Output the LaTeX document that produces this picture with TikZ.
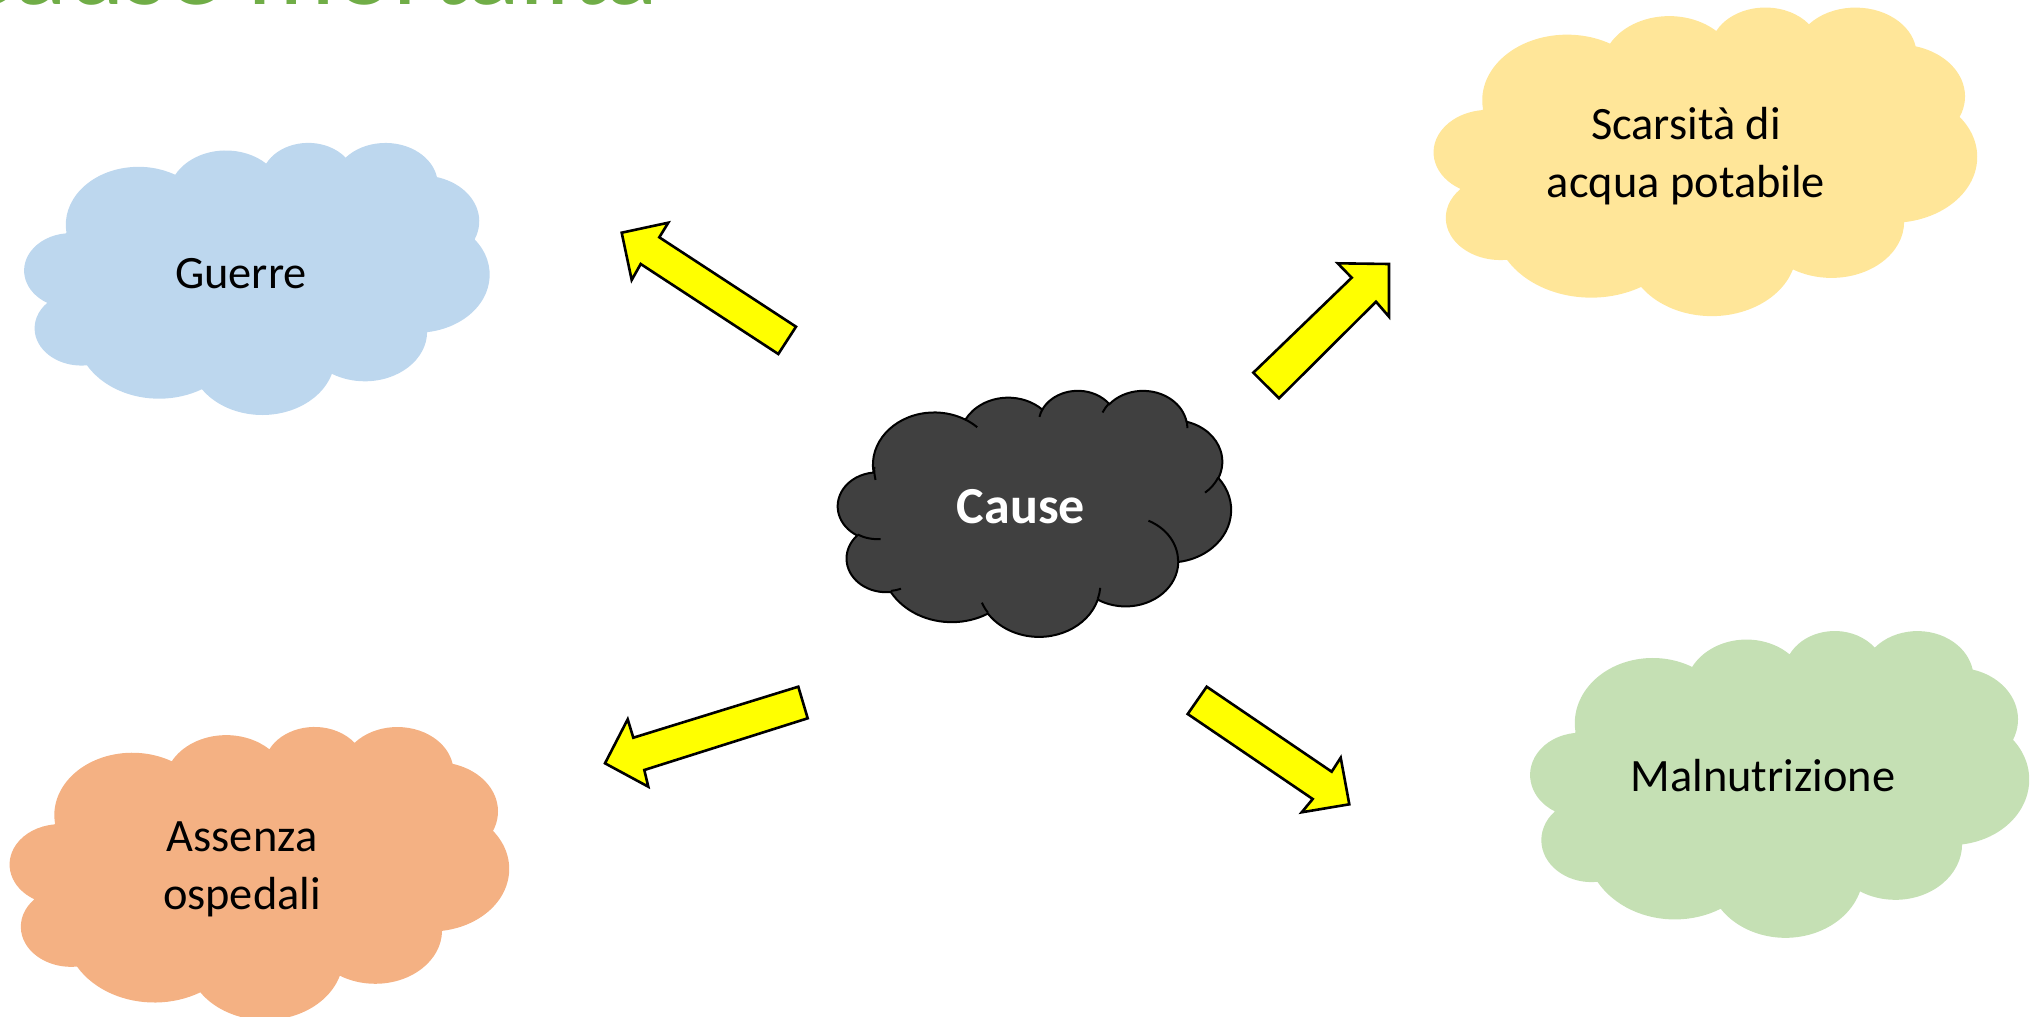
\documentclass[tikz,border=0pt]{standalone}
\usepackage{fontspec}
\setmainfont{Carlito}
\definecolor{cblue}{HTML}{BDD7EE}
\definecolor{cyellow}{HTML}{FFE699}
\definecolor{corange}{HTML}{F4B183}
\definecolor{cgreen}{HTML}{C5E0B4}
\definecolor{cdark}{HTML}{404040}
\definecolor{titlegreen}{HTML}{70AD47}
\definecolor{arrowyellow}{HTML}{FFFF00}
% arc of the PowerPoint cloud, visual angles converted to parametric ones
\newcommand\cldarc[5]{%
  \pgfmathsetmacro\cldtS{atan2(#2*sin(#4),#3*cos(#4))}%
  \pgfmathsetmacro\cldtE{atan2(#2*sin(#4+#5),#3*cos(#4+#5))}%
  \pgfmathsetmacro\cldtD{mod(\cldtE-\cldtS+720,360)}%
  \xdef#1{#1 arc[x radius=#2, y radius=#3, start angle=\cldtS, delta angle=\cldtD]}%
}
\newcommand\cldmove[3]{\xdef#1{#1 (#2,#3)}}
\begin{document}
\begin{tikzpicture}[x=0.5pt,y=-0.5pt,
  txt/.style={font=\fontsize{23.2pt}{29pt}\selectfont, align=center, inner sep=0pt, anchor=base},
  blockarrow/.style={fill=arrowyellow, draw=black, line width=1.3pt, line join=miter},
  cloudline/.style={draw=black, line width=1pt}]
\useasboundingbox (0,0) rectangle (2031,1017);
% outline of the cloud (units: 1/100 of the 43200 box)
\gdef\cldout{}
\cldarc{\cldout}{67.53}{91.90}{-190.4875}{123.7805}
\cldarc{\cldout}{53.33}{72.67}{-144.1024}{89.9452}
\cldarc{\cldout}{43.65}{59.45}{-145.8079}{99.7230}
\cldarc{\cldout}{48.57}{65.95}{-130.9861}{117.2417}
\cldarc{\cldout}{53.33}{72.73}{-78.7089}{109.0269}
\cldarc{\cldout}{67.75}{92.20}{-46.2673}{130.2690}
\cldarc{\cldout}{57.85}{78.67}{0.6250}{114.0333}
\cldarc{\cldout}{67.52}{92.15}{22.4516}{115.1726}
\cldarc{\cldout}{77.20}{105.43}{66.2426}{75.7110}
\cldarc{\cldout}{43.60}{59.18}{-274.9421}{146.7356}
\cldarc{\cldout}{43.45}{59.45}{-246.8285}{152.5189}
% inner strokes of the cloud
\gdef\cldin{}
\cldmove{\cldin}{46.93}{261.77}\cldarc{\cldin}{43.45}{59.45}{86.7420}{26.4295}
\cldmove{\cldin}{69.28}{348.99}\cldarc{\cldin}{43.60}{59.18}{73.6105}{11.4475}
\cldmove{\cldin}{164.78}{390.90}\cldarc{\cldin}{67.52}{92.15}{137.6242}{14.0811}
\cldmove{\cldin}{288.27}{347.51}\cldarc{\cldin}{67.52}{92.15}{6.4533}{15.9984}
\cldmove{\cldin}{341.29}{229.54}\cldarc{\cldin}{57.85}{78.67}{-70.2924}{70.9174}
\cldmove{\cldin}{417.98}{153.54}\cldarc{\cldin}{53.33}{72.73}{30.3180}{27.7515}
\cldmove{\cldin}{383.24}{54.26}\cldarc{\cldin}{48.57}{65.95}{-13.7443}{14.8589}
\cldmove{\cldin}{290.78}{39.52}\cldarc{\cldin}{48.57}{65.95}{-149.1815}{18.1954}
\cldmove{\cldin}{221.41}{47.20}\cldarc{\cldin}{43.65}{59.45}{-163.4943}{17.6864}
\cldmove{\cldin}{140.00}{51.92}\cldarc{\cldin}{67.53}{91.90}{-66.7070}{12.3194}
\cldmove{\cldin}{41.27}{157.89}\cldarc{\cldin}{67.53}{91.90}{163.9241}{19.4260}

% title (cut by the top edge)
\node[anchor=base east, inner sep=0pt, text=titlegreen, font=\fontsize{55pt}{60pt}\selectfont] (title) at (659,4.5) {Cause mortalità};

% coloured clouds
\begin{scope}[shift={(24.5,142)}, xscale={465/432}, yscale={272/432}]
  \path[fill=cblue] (39,143.7) \cldout -- cycle;
\end{scope}
\begin{scope}[shift={(1434,6.5)}, xscale={543/432}, yscale={308.5/432}]
  \path[fill=cyellow] (39,143.7) \cldout -- cycle;
\end{scope}
\begin{scope}[shift={(10,726)}, xscale={499/432}, yscale={293/432}]
  \path[fill=corange] (39,143.7) \cldout -- cycle;
\end{scope}
\begin{scope}[shift={(1530.5,630)}, xscale={498.5/432}, yscale={306.7/432}]
  \path[fill=cgreen] (39,143.7) \cldout -- cycle;
\end{scope}
% dark central cloud
\begin{scope}[shift={(838,390)}, xscale={393/432}, yscale={246/432}]
  \path[fill=cdark, cloudline] (39,143.7) \cldout -- cycle;
  \path[cloudline] \cldin;
\end{scope}

% texts (base = baseline of the last line)
\node[txt] (guerre) at (241,288) {Guerre};
\node[txt] (scarsita) at (1686,197.5) {Scarsità di\\acqua potabile};
\node[txt] (assenza) at (242,909) {Assenza\\ospedali};
\node[txt] (malnutrizione) at (1763,791) {Malnutrizione};
\node[font=\fontsize{26pt}{30pt}\selectfont\bfseries, text=white, inner sep=0pt] (cause) at (1021,507) {Cause};

% block arrows
\path[blockarrow] (796,326.7) -- (659.3,237.3) -- (668.3,222.7) -- (621.7,232.7) -- (631.7,280) -- (640.7,264) -- (778.3,354) -- cycle;
\path[blockarrow] (1253.3,372.7) -- (1351.7,277.7) -- (1337.7,263.3) -- (1389,264) -- (1389,316.7) -- (1376,301.7) -- (1279,398.3) -- cycle;
\path[blockarrow] (798.3,686.7) -- (633.3,737.7) -- (627.7,719.3) -- (605,763.3) -- (648.3,786.7) -- (644.3,770) -- (807.7,718.3) -- cycle;
\path[blockarrow] (1206.7,686.7) -- (1331.7,771.7) -- (1340.7,757.7) -- (1349.3,804.3) -- (1301.7,812.3) -- (1312.7,799) -- (1187.7,714) -- cycle;
\end{tikzpicture}
\end{document}
